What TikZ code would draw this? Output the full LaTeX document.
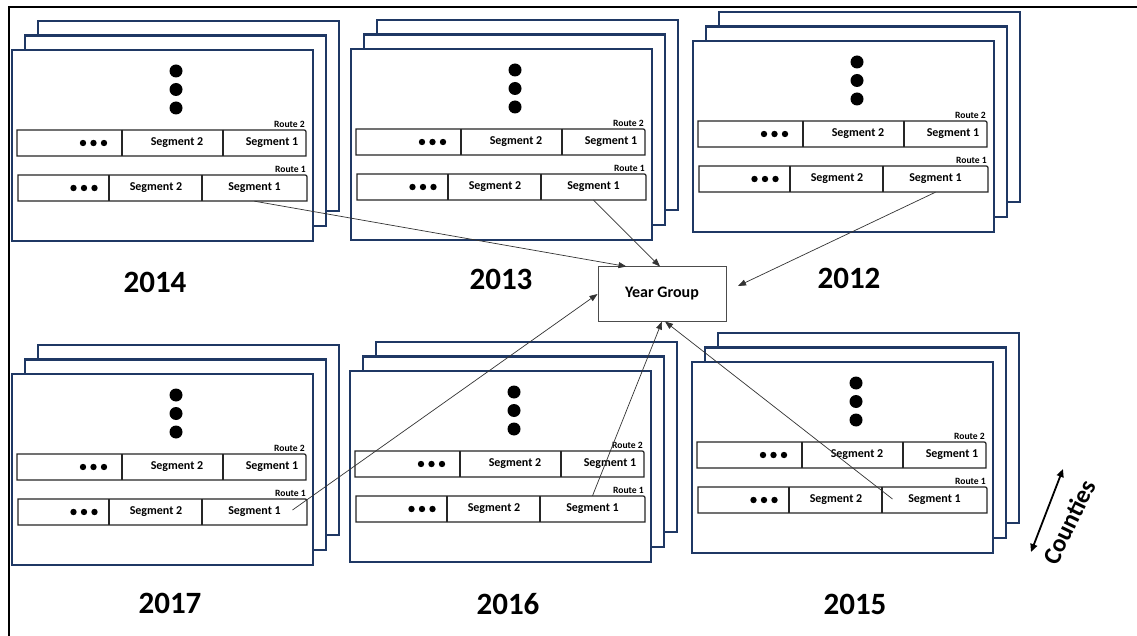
\documentclass[tikz,border=0pt]{standalone}
\usepackage{fontspec}
\setmainfont{Carlito}
\usetikzlibrary{arrows.meta,calc}
\definecolor{navy}{HTML}{1F3864}
\definecolor{lnk}{HTML}{333333}
\tikzset{
  layer/.style={draw=navy, line width=2.6pt, fill=white},
  bar/.style={draw=black!85, line width=1.2pt},
  segtxt/.style={font=\fontsize{12}{12}\selectfont\bfseries, inner sep=0pt},
  routetxt/.style={font=\fontsize{9.6}{10}\selectfont\bfseries, inner sep=0pt, anchor=south east},
  yeartxt/.style={font=\fontsize{31}{31}\selectfont\bfseries, inner sep=0pt},
  link/.style={draw=lnk, line width=0.7pt, -{Triangle[length=8pt,width=6pt]}},
  tip/.style={Triangle[length=9pt,width=7pt]},
}
\newcommand\yearpanel[3]{%
  \begin{scope}[shift={(#1,#2)}]
    \draw[layer] (26,-29) rectangle (327,161);
    \draw[layer] (13,-14.5) rectangle (314,176);
    \draw[layer] (0,0) rectangle (301,191);
    \fill (164,21) circle (6.5pt);
    \fill (164,39.5) circle (6.5pt);
    \fill (164,58) circle (6.5pt);
    % Route 2
    \draw[bar] (5,106) -- (5,80) -- (290,80) .. controls (294,80) .. (294,84) -- (294,106) -- cycle;
    \draw[bar] (110,80) -- (110,106) (211,80) -- (211,106);
    % Route 1
    \draw[bar] (6,151) -- (6,125) -- (291,125) .. controls (295,125) .. (295,129) -- (295,151) -- cycle;
    \draw[bar] (97,125) -- (97,151) (190,125) -- (190,151);
    \node[routetxt] (#3r2) at (293,78) {Route 2};
    \node[routetxt] (#3r1) at (294,123) {Route 1};
    \node[segtxt] (#3b2) at (165,93) {Segment 2};
    \node[segtxt] (#3b1) at (260,93) {Segment 1};
    \node[segtxt] (#3a2) at (144,138) {Segment 2};
    \node[segtxt, minimum width=105pt, minimum height=26pt] (#3c) at (242.5,138) {Segment 1};
    \fill (71,93) circle (3.2pt) (81.5,93) circle (3.2pt) (92,93) circle (3.2pt);
    \fill (61.5,138) circle (3.2pt) (72,138) circle (3.2pt) (82.5,138) circle (3.2pt);
  \end{scope}}

\begin{document}
\begin{tikzpicture}[x=1pt,y=-1pt]
  \useasboundingbox (0,0) rectangle (1137,636);
  \fill[white] (0,0) rectangle (1137,636);
  \draw[line width=1.3pt] (9,636) -- (9,7) -- (1137,7);

  \yearpanel{12}{50}{p14}
  \yearpanel{351}{49}{p13}
  \yearpanel{693}{41}{p12}
  \yearpanel{12}{374}{p17}
  \yearpanel{350}{371}{p16}
  \yearpanel{692}{362}{p15}

  \node[yeartxt] (y14) at (155,282) {2014};
  \node[yeartxt] (y13) at (501,279) {2013};
  \node[yeartxt] (y12) at (849,278) {2012};
  \node[yeartxt] (y17) at (170,603) {2017};
  \node[yeartxt] (y16) at (508,604) {2016};
  \node[yeartxt] (y15) at (855,604) {2015};

  \node[draw=black!70, line width=1pt, fill=white, minimum width=128pt, minimum height=54pt,
        font=\fontsize{16}{16}\selectfont\bfseries] (yg) at (662,294) {Year Group};

  \coordinate (e12) at (738,286);
  \draw[link] (p14c.south) -- ($(yg.north west)+(29,0)$);
  \draw[link] (p13c.south) -- ($(yg.north)+(-2,0)$);
  \draw[link] (p12c.south) -- (e12);
  \draw[link] ($(p17c.center)+(38,-2)$) -- (yg.west);
  \draw[link] (p16c.north) -- (yg.south);
  \draw[link] ($(p15c.center)+(-42,-1)$) -- ($(yg.south)+(3,0)$);

  \coordinate (ca) at (1031,552);
  \coordinate (cb) at (1063,469);
  \draw[line width=1.8pt, {Triangle[length=8pt,width=7pt]}-{Triangle[length=8pt,width=7pt]}] (ca) -- (cb);
  \node[rotate=64, font=\fontsize{25}{25}\selectfont\bfseries, inner sep=0pt] (cty) at (1069,522) {Counties};
\end{tikzpicture}
\end{document}
